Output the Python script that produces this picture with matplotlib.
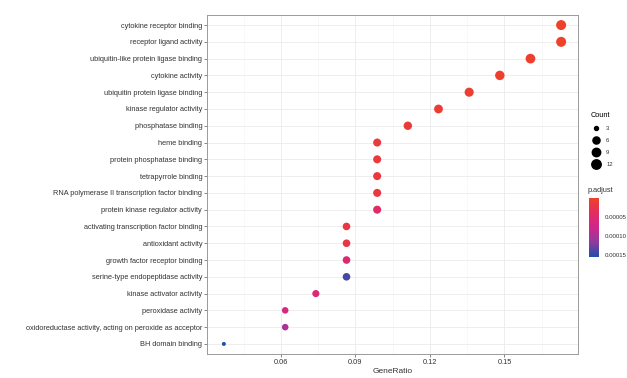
import numpy as np
import matplotlib
matplotlib.use("Agg")
import matplotlib.pyplot as plt
from matplotlib.colors import LinearSegmentedColormap, Normalize
from matplotlib.lines import Line2D

plt.rcParams["font.family"] = ["Liberation Sans", "DejaVu Sans"]

# GO terms, top to bottom as in the figure
terms = [
    "cytokine receptor binding",
    "receptor ligand activity",
    "ubiquitin-like protein ligase binding",
    "cytokine activity",
    "ubiquitin protein ligase binding",
    "kinase regulator activity",
    "phosphatase binding",
    "heme binding",
    "protein phosphatase binding",
    "tetrapyrrole binding",
    "RNA polymerase II transcription factor binding",
    "protein kinase regulator activity",
    "activating transcription factor binding",
    "antioxidant activity",
    "growth factor receptor binding",
    "serine-type endopeptidase activity",
    "kinase activator activity",
    "peroxidase activity",
    "oxidoreductase activity, acting on peroxide as acceptor",
    "BH domain binding",
]
counts = [14, 14, 13, 12, 11, 10, 9, 8, 8, 8, 8, 8, 7, 7, 7, 7, 6, 5, 5, 3]
total_genes = 81
p_adjust = [2e-6, 3e-6, 5e-6, 5e-6, 8e-6, 1.0e-5, 1.2e-5, 1.5e-5, 1.5e-5, 1.6e-5,
            1.8e-5, 4.5e-5, 2.0e-5, 2.2e-5, 5.5e-5, 1.4e-4, 5.5e-5, 6.5e-5, 1.0e-4, 1.54e-4]

size_breaks = [3, 6, 9, 12]
p_ticks = [0.00005, 0.00010, 0.00015]
p_ticklabels = ["0.00005", "0.00010", "0.00015"]

gene_ratio = np.array(counts) / total_genes
counts_arr = np.array(counts)

cmap = LinearSegmentedColormap.from_list(
    "padj", ["#EE4129", "#E32B62", "#D0268C", "#8E3C9E", "#1F4FA8"])
norm = Normalize(vmin=min(p_adjust), vmax=max(p_adjust))

cmin, cmax = counts_arr.min(), counts_arr.max()


def dot_size(c):
    # ggplot style area scale, diameter in px -> marker area in pt^2
    d_px = 4.0 + 6.0 * np.sqrt((np.asarray(c, float) - cmin) / (cmax - cmin))
    return (d_px * 0.72) ** 2


fig = plt.figure(figsize=(6.27, 3.78), dpi=100)
ax = fig.add_axes([207 / 627, 24 / 378, 371 / 627, 339 / 378])

ypos = np.arange(len(terms))[::-1]
ax.scatter(gene_ratio, ypos, s=dot_size(counts_arr), c=p_adjust, cmap=cmap,
           norm=norm, edgecolors="none", zorder=3)

ax.set_yticks(ypos)
ax.set_yticklabels(terms)
ax.set_ylim(-0.6, len(terms) - 0.4)
xmin, xmax = gene_ratio.min(), gene_ratio.max()
pad = (xmax - xmin) * 0.05
ax.set_xlim(xmin - pad, xmax + pad)
ax.set_xticks([0.06, 0.09, 0.12, 0.15])
ax.set_xticklabels(["0.06", "0.09", "0.12", "0.15"])
ax.set_xticks([0.045, 0.075, 0.105, 0.135, 0.165], minor=True)

ax.grid(True, which="major", color="#EBEBEB", linewidth=0.6, zorder=0)
ax.grid(True, which="minor", axis="x", color="#F4F4F4", linewidth=0.4, zorder=0)
ax.set_axisbelow(True)
for sp in ax.spines.values():
    sp.set_color("#9A9A9A")
    sp.set_linewidth(0.7)
ax.tick_params(axis="both", which="major", length=2, width=0.5, color="#555555",
               labelsize=5.3, labelcolor="#333333", pad=1.5)
ax.tick_params(axis="x", which="minor", length=0)
ax.set_xlabel("GeneRatio", fontsize=6.0, color="#333333", labelpad=1.5)

# size legend
handles = [Line2D([], [], linestyle="none", marker="o", color="black",
                  markersize=np.sqrt(dot_size(b))) for b in size_breaks]
leg = fig.legend(handles, [str(b) for b in size_breaks], title="Count",
                 loc="upper left", bbox_to_anchor=(587 / 627, 1 - 108 / 378),
                 frameon=False, fontsize=4.2, title_fontsize=5.3,
                 labelspacing=1.2, handletextpad=1.0, handlelength=1.6,
                 borderpad=0.2, alignment="left")
for t in leg.get_texts():
    t.set_color("#333333")

# colour bar
cax = fig.add_axes([589 / 627, 1 - 257 / 378, 10 / 627, 59 / 378])
cb = fig.colorbar(plt.cm.ScalarMappable(norm=norm, cmap=cmap), cax=cax)
cax.invert_yaxis()
cb.set_ticks(p_ticks)
cb.set_ticklabels(p_ticklabels)
cb.outline.set_visible(False)
cax.tick_params(length=2, width=0.5, color="white", labelsize=4.4,
                labelcolor="#333333", pad=2)
fig.text(588 / 627, 1 - 190 / 378, "p.adjust", fontsize=5.3, color="#333333",
         va="center", ha="left")

fig.savefig("out.png", dpi=100)
